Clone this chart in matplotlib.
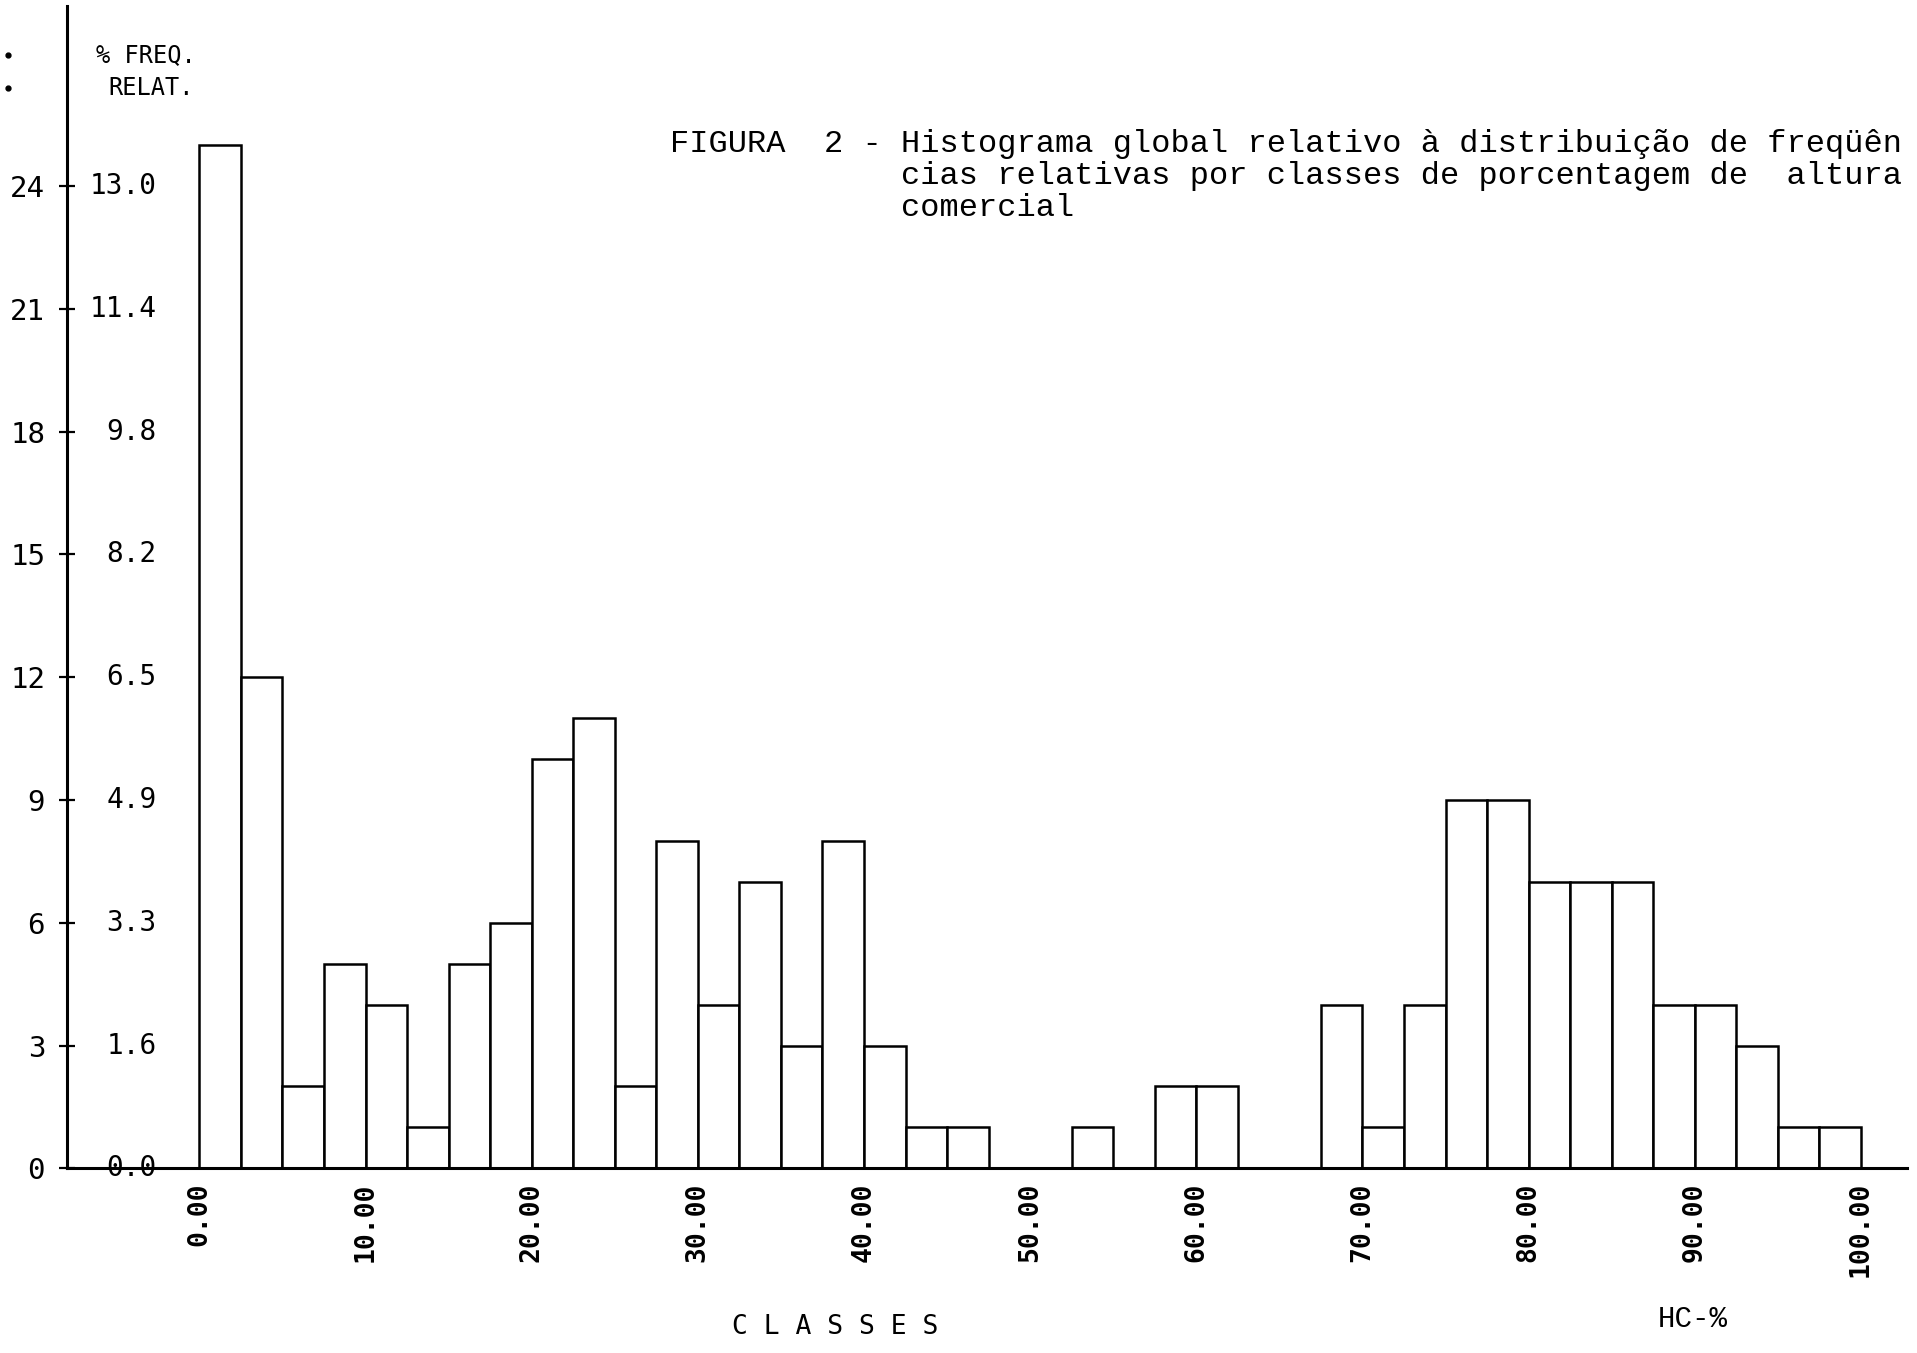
import matplotlib
matplotlib.use("Agg")
import matplotlib.pyplot as plt
from matplotlib.lines import Line2D
import numpy as np

# class lower bounds (HC-%), width 2.5
class_starts = [i * 2.5 for i in range(40)]
counts = [25, 12, 2, 5, 4, 1, 5, 6, 10, 11,
          2, 8, 4, 7, 3, 8, 3, 1, 1, 0,
          0, 1, 0, 2, 2, 0, 0, 4, 1, 4,
          9, 9, 7, 7, 7, 4, 4, 3, 1, 1]
count_ticks = [0, 3, 6, 9, 12, 15, 18, 21, 24]
x_ticks = [0, 10, 20, 30, 40, 50, 60, 70, 80, 90, 100]
x_tick_labels = ["0.00", "10.00", "20.00", "30.00", "40.00", "50.00",
                 "60.00", "70.00", "80.00", "90.00", "100.00"]
title_lines = ["FIGURA  2 - Histograma global relativo à distribuição de freqüên",
               "            cias relativas por classes de porcentagem de  altura",
               "            comercial"]

total = sum(counts)
pct_labels = ["%.1f" % (c / total * 100) for c in count_ticks]

mono = "DejaVu Sans Mono"
typew = "Liberation Mono"

fig = plt.figure(figsize=(19.17, 13.53), dpi=100)
ax = fig.add_axes([0.0351, 0.1365, 0.9599, 0.859])

ax.bar(class_starts, counts, width=2.5, align="edge",
       facecolor="white", edgecolor="black", linewidth=1.8, zorder=2)

ax.set_xlim(-7.95, 102.8)
ax.set_ylim(0, 28.4)

for s in ["top", "right"]:
    ax.spines[s].set_visible(False)
ax.spines["left"].set_linewidth(2.2)
ax.spines["bottom"].set_linewidth(2.2)

ax.set_yticks(count_ticks)
ax.set_yticklabels([str(c) for c in count_ticks], family=mono, fontsize=21)
ax.tick_params(axis="y", direction="inout", length=12, width=1.6, pad=10)

ax.set_xticks(x_ticks)
ax.set_xticklabels(x_tick_labels, rotation=90, family=mono, fontsize=19,
                   fontweight="bold")
ax.tick_params(axis="x", length=0, pad=10)

trans = ax.get_yaxis_transform()
for c, lab in zip(count_ticks, pct_labels):
    ax.text(0.0485, c, lab, transform=trans,
            ha="right", va="center", family=mono, fontsize=20, zorder=3)

fig.text(0.102, 0.959, "% FREQ.", ha="right", va="center", family=mono, fontsize=17)
fig.text(0.101, 0.935, "RELAT.", ha="right", va="center", family=mono, fontsize=17)

fig.text(0.3495, 0.870, "\n".join(title_lines), ha="left", va="center",
         family=typew, fontsize=23.0, linespacing=1.08)

fig.text(0.4355, 0.019, "C L A S S E S", ha="center", va="center",
         family=mono, fontsize=19)
fig.text(0.883, 0.0253, "HC-%", ha="center", va="center", family=typew, fontsize=21)

# stray marks at far left
fig.add_artist(Line2D([0.004, 0.004], [0.959, 0.935], linestyle="none",
                      marker="o", markersize=3.5, color="black",
                      transform=fig.transFigure))

fig.savefig("out.png", dpi=100, facecolor="white")
